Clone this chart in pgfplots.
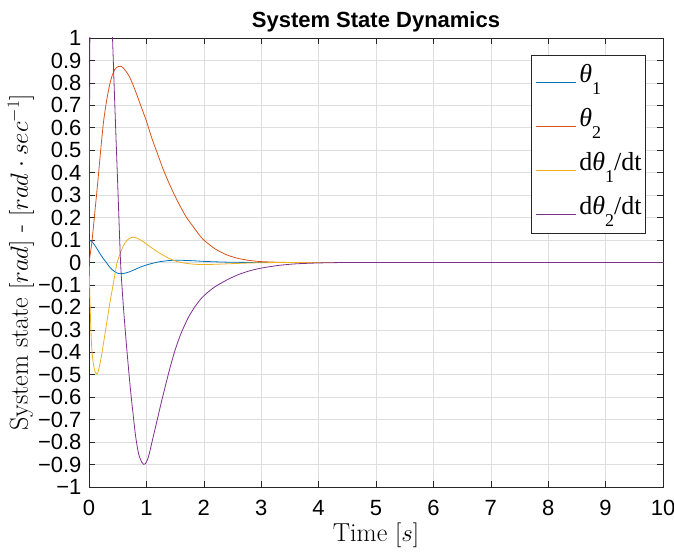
\documentclass[border=0pt]{standalone}
\usepackage{fontspec}
\usepackage{pgfplots}
\pgfplotsset{compat=1.18}
\newfontfamily\arial{Liberation Sans}
\newfontfamily\tnr{Liberation Serif}
\definecolor{c1}{rgb}{0,0.447,0.741}
\definecolor{c2}{rgb}{0.85,0.325,0.098}
\definecolor{c3}{rgb}{0.929,0.694,0.125}
\definecolor{c4}{rgb}{0.494,0.184,0.556}
\definecolor{axc}{RGB}{38,38,38}
\definecolor{gridc}{RGB}{222,222,222}
\newcommand\lsub[1]{\raisebox{-12pt}{\fontsize{18}{18}\selectfont #1}}
\begin{document}
\begin{tikzpicture}
\useasboundingbox (0,0) rectangle (674pt,551pt);
\begin{axis}[
  at={(89pt,64pt)}, anchor=south west,
  width=574pt, height=449pt, scale only axis,
  xmin=0, xmax=10, ymin=-1, ymax=1,
  xtick={0,1,2,3,4,5,6,7,8,9,10},
  xticklabels={0,1,2,3,4,5,6,7,8,9,10},
  ytick={-1,-0.9,-0.8,-0.7,-0.6,-0.5,-0.4,-0.3,-0.2,-0.1,0,0.1,0.2,0.3,0.4,0.5,0.6,0.7,0.8,0.9,1},
  yticklabels={−1,−0.9,−0.8,−0.7,−0.6,−0.5,−0.4,−0.3,−0.2,−0.1,0,0.1,0.2,0.3,0.4,0.5,0.6,0.7,0.8,0.9,1},
  tick label style={font=\arial\fontsize{22}{22}\selectfont},
  xticklabel style={yshift=-10pt},
  yticklabel style={xshift=-4pt},
  tick align=inside, major tick length=5.7pt,
  tick style={axc, line width=0.6pt},
  axis line style={axc, line width=0.6pt},
  grid=major, major grid style={gridc, line width=0.6pt},
  title={System State Dynamics},
  title style={font=\arial\bfseries\fontsize{22}{22}\selectfont, at={(0.5,1)}, anchor=base, yshift=4pt},
  xlabel={Time $[s]$},
  xlabel style={font=\fontsize{26}{26}\selectfont, at={(axis description cs:0.5,0)}, anchor=base, yshift=-54pt},
  ylabel={System state $[rad]$ - $[rad\cdot sec^{-1}]$},
  ylabel style={font=\fontsize{26}{26}\selectfont, at={(axis description cs:0,0.5)}, anchor=center, yshift=68pt},
  legend style={at={(0.970,0.962)}, anchor=north east, draw=axc, line width=0.6pt, fill=white,
    font=\tnr\fontsize{26}{26}\selectfont, inner xsep=4pt, inner ysep=1pt,
    nodes={inner sep=0pt, text height=26pt, text depth=18pt}, column sep=3pt},
  legend cell align=left,
  legend image code/.code={\draw[#1, line width=0.9pt] (0pt,-4pt) -- (40pt,-4pt);},
  every axis plot/.append style={line width=0.8pt, smooth, tension=0.4},
]
\addplot[c1] coordinates {
(0,0.100) (0.05,0.093) (0.1,0.077) (0.15,0.057) (0.2,0.036) (0.25,0.017) (0.3,0.001)
(0.35,-0.017) (0.4,-0.031) (0.45,-0.041) (0.5,-0.048) (0.55,-0.050) (0.6,-0.049)
(0.7,-0.042) (0.8,-0.031) (0.9,-0.020) (1.0,-0.011) (1.1,-0.004) (1.2,0.002) (1.3,0.006)
(1.4,0.009) (1.5,0.010) (1.6,0.010) (1.8,0.008) (2.0,0.005) (2.2,0.003) (2.5,0.001) (3.0,0) (4,0) (10,0)};
\addlegendentry{\textit{θ}\lsub{1}}
\addplot[c2] coordinates {
(0,0) (0.05,0.09) (0.1,0.22) (0.15,0.35) (0.2,0.49) (0.25,0.62) (0.3,0.71) (0.35,0.78)
(0.4,0.83) (0.45,0.86) (0.5,0.872) (0.55,0.874) (0.6,0.866) (0.7,0.83) (0.8,0.77) (0.9,0.70)
(1.0,0.63) (1.1,0.55) (1.2,0.48) (1.3,0.41) (1.4,0.35) (1.5,0.295) (1.6,0.245) (1.7,0.20)
(1.8,0.165) (1.9,0.13) (2.0,0.10) (2.2,0.06) (2.4,0.034) (2.6,0.018) (2.8,0.009) (3.0,0.004)
(3.3,0.001) (3.6,0) (4.5,0) (10,0)};
\addlegendentry{\textit{θ}\lsub{2}}
\addplot[c3] coordinates {
(0,0) (0.01,-0.1) (0.02,-0.2) (0.035,-0.31) (0.05,-0.39) (0.07,-0.44) (0.09,-0.47) (0.11,-0.49)
(0.135,-0.497) (0.16,-0.485) (0.2,-0.44) (0.24,-0.38) (0.28,-0.315) (0.32,-0.25) (0.37,-0.17)
(0.42,-0.10) (0.46,-0.04) (0.49,0.0) (0.55,0.045) (0.6,0.075) (0.65,0.095) (0.7,0.107)
(0.77,0.113) (0.85,0.107) (0.95,0.092) (1.05,0.073) (1.15,0.055) (1.24,0.04) (1.35,0.024)
(1.45,0.012) (1.55,0.003) (1.7,-0.004) (1.85,-0.008) (2.0,-0.009) (2.2,-0.008) (2.4,-0.006)
(2.7,-0.003) (3.0,-0.001) (3.5,0) (4.5,0) (10,0)};
\addlegendentry{d\textit{θ}\lsub{1}/dt\hspace{5pt}}
\addplot[c4] coordinates {
(0,0) (0.01,0.7) (0.02,1.2) (0.05,2.0) (0.1,2.6) (0.15,2.8) (0.2,2.7) (0.25,2.35) (0.3,1.95)
(0.35,1.45) (0.41,1.0) (0.45,0.70) (0.5,0.35) (0.55,0.0) (0.6,-0.20) (0.66,-0.39) (0.72,-0.56)
(0.77,-0.68) (0.81,-0.77) (0.85,-0.835) (0.88,-0.866) (0.92,-0.89) (0.95,-0.899) (0.98,-0.897)
(1.02,-0.878) (1.05,-0.852) (1.09,-0.808) (1.18,-0.71) (1.27,-0.612) (1.4,-0.48) (1.5,-0.39)
(1.6,-0.318) (1.73,-0.245) (1.85,-0.195) (1.97,-0.156) (2.1,-0.126) (2.2,-0.107) (2.4,-0.078)
(2.6,-0.054) (2.8,-0.037) (3.0,-0.025) (3.3,-0.013) (3.6,-0.006) (4.0,-0.002) (4.5,0) (5.5,0) (10,0)};
\addlegendentry{d\textit{θ}\lsub{2}/dt\hspace{5pt}}
\end{axis}
\end{tikzpicture}
\end{document}
